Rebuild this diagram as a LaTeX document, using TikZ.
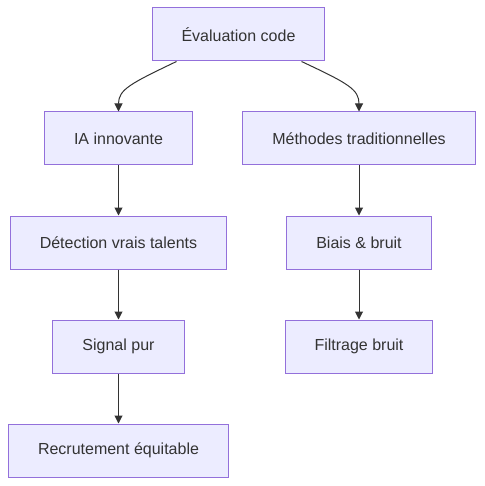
\documentclass[tikz,border=0pt]{standalone}
\usepackage{fontspec}
\setmainfont{Liberation Sans}
\usepackage{tikz}
\usetikzlibrary{arrows.meta}
\definecolor{boxfill}{HTML}{ECECFF}
\definecolor{boxline}{HTML}{9370DB}
\definecolor{ink}{HTML}{333333}
\tikzset{>={Triangle[length=8pt,width=8pt]}}
\tikzset{box/.style={draw=boxline,fill=boxfill,line width=1pt,text=ink,inner xsep=29.5pt,minimum height=53pt,font=\fontsize{16pt}{19pt}\selectfont},
	arr/.style={->,draw=ink,line width=1pt}}
\begin{document}
\begin{tikzpicture}[x=1pt,y=-1pt]
			\useasboundingbox (0,0) rectangle (484,486);
			\node[box] (eval) at (238.5,34.5) {Évaluation code};
			\node[box] (ia) at (118.5,138.5) {IA innovante};
			\node[box] (trad) at (359,138.5) {Méthodes traditionnelles};
			\node[box] (talent) at (118.5,242.5) {Détection vrais talents};
			\node[box] (biais) at (359,242.5) {Biais \& bruit};
			\node[box] (signal) at (118.5,346.5) {Signal pur};
			\node[box] (filtre) at (359,346.5) {Filtrage bruit};
			\node[box] (recru) at (118.5,450.5) {Recrutement équitable};
			\draw[arr] ([xshift=-62pt]eval.south) .. controls +(-46,22) and +(0,-22) .. (ia.north);
			\draw[arr] ([xshift=63pt]eval.south) .. controls +(47,22) and +(0,-22) .. (trad.north);
			\draw[arr] (ia) -- (talent);
			\draw[arr] (talent) -- (signal);
			\draw[arr] (signal) -- (recru);
			\draw[arr] (trad) -- (biais);
			\draw[arr] (biais) -- (filtre);
		\end{tikzpicture}
\end{document}
